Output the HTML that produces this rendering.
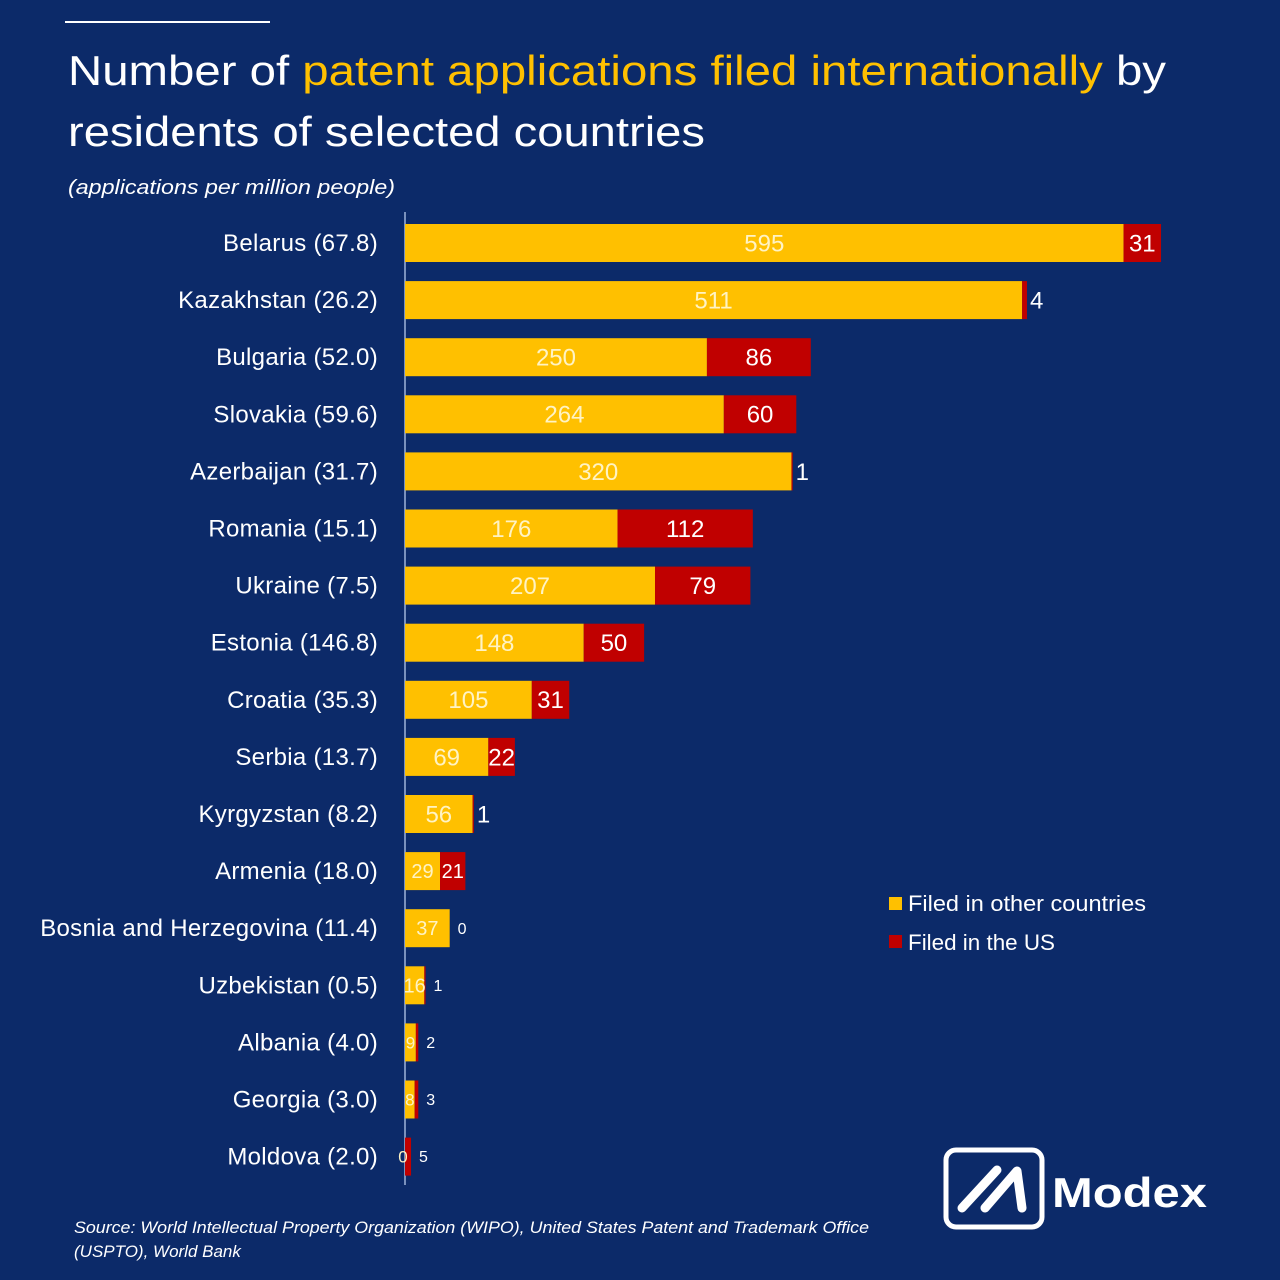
<!DOCTYPE html>
<html><head><meta charset="utf-8">
<style>
html,body{margin:0;padding:0;background:#0c2a69;}
svg{display:block;font-family:"Liberation Sans",sans-serif;}
</style></head>
<body>
<svg id="chart" width="1280" height="1280" viewBox="0 0 1280 1280" xmlns="http://www.w3.org/2000/svg">
<rect width="1280" height="1280" fill="#0c2a69"/>
<line x1="65" y1="22" x2="270" y2="22" stroke="#ffffff" stroke-width="2"/>
<text x="68" y="85" font-size="42" fill="#ffffff" textLength="1098" lengthAdjust="spacingAndGlyphs">Number of <tspan fill="#ffc000">patent applications filed internationally</tspan> by</text>
<text x="68" y="146" font-size="42" fill="#ffffff" textLength="637" lengthAdjust="spacingAndGlyphs">residents of  selected countries</text>
<text x="68" y="194" font-size="20" font-style="italic" fill="#ffffff" textLength="327" lengthAdjust="spacingAndGlyphs">(applications per million people)</text>
<line x1="405" y1="212" x2="405" y2="1185" stroke="#9fb3d9" stroke-width="1.5"/>
<g id="bars"></g>
<g>
<rect x="889" y="897" width="13" height="13" fill="#ffc000"/>
<text x="908" y="911" font-size="22" fill="#ffffff" textLength="238" lengthAdjust="spacingAndGlyphs">Filed in other countries</text>
<rect x="889" y="935" width="13" height="13" fill="#c00000"/>
<text x="908" y="950" font-size="22" fill="#ffffff" textLength="147" lengthAdjust="spacingAndGlyphs">Filed in the US</text>
</g>
<g>
<rect x="946" y="1150" width="96" height="77" rx="10" fill="none" stroke="#ffffff" stroke-width="5"/>
<line x1="962" y1="1208" x2="997" y2="1170" stroke="#ffffff" stroke-width="9" stroke-linecap="round"/>
<path d="M985 1208 L1017 1171 L1022 1208" fill="none" stroke="#ffffff" stroke-width="9" stroke-linecap="round" stroke-linejoin="round"/>
<text x="1052" y="1207" font-size="42" font-weight="bold" fill="#ffffff" textLength="155" lengthAdjust="spacingAndGlyphs">Modex</text>
</g>
<text x="74" y="1233" font-size="17" font-style="italic" fill="#ffffff" textLength="795" lengthAdjust="spacingAndGlyphs">Source: World Intellectual Property Organization (WIPO), United States Patent and Trademark Office</text>
<text x="74" y="1257" font-size="17" font-style="italic" fill="#ffffff">(USPTO), World Bank</text>
</svg>
<script>
const categories = ["Belarus (67.8)","Kazakhstan (26.2)","Bulgaria (52.0)","Slovakia (59.6)","Azerbaijan (31.7)","Romania (15.1)","Ukraine (7.5)","Estonia (146.8)","Croatia (35.3)","Serbia (13.7)","Kyrgyzstan (8.2)","Armenia (18.0)","Bosnia and Herzegovina (11.4)","Uzbekistan (0.5)","Albania (4.0)","Georgia (3.0)","Moldova (2.0)"];
const otherValues = [595,511,250,264,320,176,207,148,105,69,56,29,37,16,9,8,0];
const usValues = [31,4,86,60,1,112,79,50,31,22,1,21,0,1,2,3,5];

const NS = "http://www.w3.org/2000/svg";
const g = document.getElementById("bars");
const x0 = 405, scale = 1.2077;
const xPos = v => x0 + v * scale;
const yCenter = i => 243 + i * 57.1;
const barH = 38;

function mk(tag, attrs){ const e=document.createElementNS(NS,tag); for(const k in attrs) e.setAttribute(k, attrs[k]); return e; }

categories.forEach((c,i)=>{
  const yc = yCenter(i);
  const small = i >= 11;
  const fs = i <= 10 ? 24 : (i <= 13 ? 20 : 17);
  const lab = mk("text",{x:378,y:yc+8,"font-size":24,fill:"#ffffff","text-anchor":"end","letter-spacing":"0.3"});
  
  
  lab.textContent = c; g.appendChild(lab);

  const xo = xPos(otherValues[i]);
  const ry = mk("rect",{x:x0,y:yc-barH/2,width:xo-x0,height:barH,fill:"#ffc000"});
  
  
  g.appendChild(ry);
  const xu = xPos(otherValues[i]+usValues[i]);
  const rr = mk("rect",{x:xo,y:yc-barH/2,width:xu-xo,height:barH,fill:"#c00000"});
  
  
  g.appendChild(rr);

  const t1 = mk("text",{x:otherValues[i]===0 ? x0-2 : (x0+xo)/2,y:yc+fs*0.35,"font-size":fs,fill:"#fff3c4","text-anchor":"middle"});
  
  
  t1.textContent = otherValues[i]; g.appendChild(t1);

  const inside = (xu-xo) >= 24;
  const ufs = inside ? fs : (small ? 16 : fs);
  const t2 = mk("text",{x: inside ? (xo+xu)/2 : xu+ (small?8:3), y:yc+ufs*0.35,"font-size":ufs,fill:"#ffffff","text-anchor": inside?"middle":"start"});
  
  
  t2.textContent = usValues[i]; g.appendChild(t2);
});
</script>
</body></html>
